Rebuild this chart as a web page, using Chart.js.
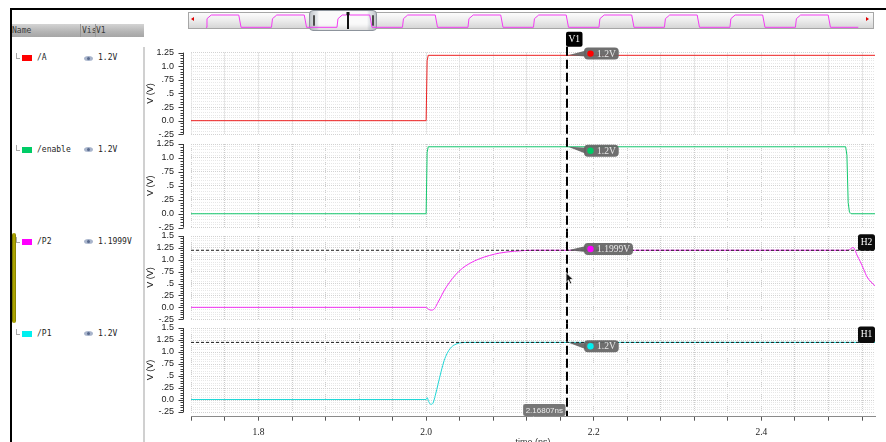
<!DOCTYPE html>
<html>
<head>
<meta charset="utf-8">
<title>Transient response</title>
<script src="https://cdn.jsdelivr.net/npm/chart.js@4.4.1/dist/chart.umd.min.js"></script>
<style>
  html, body { margin: 0; padding: 0; }
  body { width: 886px; height: 442px; overflow: hidden; position: relative; background: #fff;
         font-family: "DejaVu Sans Mono", monospace; font-size: 8px; color: #222; }
  canvas { position: absolute; }
  .blk { position: absolute; background: #000; }
  .hdr { position: absolute; top: 24px; height: 13px; left: 12px; width: 132px;
         background: linear-gradient(#d4d4d4, #b4b4b4 60%, #a6a6a6); }
  .hdr span { position: absolute; top: 2px; font-size: 8px; line-height: 9px; color: #3a3a3a; }
  .sep { position: absolute; top: 24px; width: 1px; height: 13px; background: #959595; }
  .divider { position: absolute; left: 143px; top: 47px; width: 2px; height: 395px; background: #d0d0d0; }
  .txt { position: absolute; font-size: 8px; line-height: 10px; color: #1e1e1e; white-space: nowrap; }
  .tree { position: absolute; width: 3px; height: 5px; border-left: 1px solid #a8a8a8; border-bottom: 1px solid #a8a8a8; }
  .swatch { position: absolute; width: 10px; height: 6px; }
  .eye { position: absolute; width: 9px; height: 5px; border-radius: 50%; background: #a9b5cc; }
  .eye::after { content: ""; position: absolute; left: 3px; top: 1px; width: 3px; height: 3px; border-radius: 50%; background: #5a6b8e; }
  .selbar { position: absolute; left: 12px; top: 233px; width: 4px; height: 90px; border-radius: 2px;
            background: linear-gradient(90deg, #6a6600, #bdb400 50%, #7c7700); }
  .nav { position: absolute; left: 188px; top: 12px; width: 684px; height: 15px; border: 1px solid #a6a6a6;
         background: linear-gradient(#fcfcfc, #ececec 50%, #d6d6d6); }
  .arrowL { position: absolute; left: 191px; top: 17px; width: 0; height: 0;
            border-top: 2px solid transparent; border-bottom: 2px solid transparent; border-right: 3px solid #e00000; }
  .arrowR { position: absolute; left: 866px; top: 17px; width: 0; height: 0;
            border-top: 2px solid transparent; border-bottom: 2px solid transparent; border-left: 3px solid #e00000; }
  .thumb { position: absolute; left: 309px; top: 10px; width: 66px; height: 19px; border: 1px solid #8d949c; border-radius: 4px;
           background: linear-gradient(90deg, #c9cdd2 0, #e4e7ea 7px, #fafafa 9px, #fafafa 57px, #e4e7ea 59px, #c9cdd2 100%);
           box-shadow: inset 0 -3px 4px rgba(0,0,0,0.12); }
  .grip { position: absolute; top: 15px; width: 2px; height: 11px; background: #4c4c4c; border-radius: 1px; }
  .pointer { position: absolute; left: 565px; top: 272px; }
</style>
</head>
<body>
<div class="blk" style="left:10px;top:8px;width:876px;height:2px"></div>
<div class="blk" style="left:10px;top:8px;width:2px;height:434px"></div>

<div class="hdr"><span style="left:0">Name</span><span style="left:70px">Vis</span><span style="left:84px">V1</span></div>
<div class="sep" style="left:80px"></div>
<div class="sep" style="left:95px"></div>
<div class="divider"></div>
<div class="selbar"></div>

<div class="nav"></div>
<div class="arrowL"></div>
<div class="arrowR"></div>
<div class="thumb"></div>
<div class="grip" style="left:313px"></div>
<div class="grip" style="left:372px"></div>

<script>
// ---------------- signal data (time in ns, voltage in V) ----------------
const xMin = 1.7195;
const xMax = 2.5355;
const cursorTime = 2.16807;

const signalNames  = ['/A', '/enable', '/P2', '/P1'];
const signalColors = ['#ff0000', '#00cc66', '#ff00ff', '#00f0f0'];
const cursorValues = [1.2, 1.2, 1.1999, 1.2];

const aTime = [1.7195, 2.0, 2.0012, 2.0025, 2.5355];
const aVolt = [0, 0, 1.1, 1.2, 1.2];

const enTime = [1.7195, 2.0, 2.0012, 2.0025, 2.5005, 2.502, 2.5035, 2.505, 2.507, 2.5355];
const enVolt = [0, 0, 1.1, 1.2, 1.2, 1.05, 0.2, 0.03, 0, 0];

const p2Time = [1.7195, 2.0, 2.0027, 2.0063, 2.0099, 2.0134, 2.017, 2.0218, 2.0277, 2.0349, 2.0432,
                2.0516, 2.0635, 2.0755, 2.0874, 2.1053, 2.1292, 2.16807, 2.503, 2.5075, 2.5093,
                2.511, 2.514, 2.518, 2.522, 2.526, 2.5355];
const p2Volt = [0, 0, -0.04, -0.06, -0.03, 0.08, 0.2, 0.36, 0.52, 0.68, 0.82,
                0.92, 1.02, 1.09, 1.14, 1.18, 1.2, 1.1999, 1.2, 1.24, 1.26,
                1.23, 1.1, 0.96, 0.8, 0.64, 0.45];

const p1Time = [1.7195, 2.0, 2.0012, 2.003, 2.0055, 2.008, 2.011, 2.0145, 2.018, 2.0215,
                2.025, 2.029, 2.034, 2.04, 2.05, 2.16807, 2.5355];
const p1Volt = [0.01, 0.01, 0.05, -0.03, -0.09, -0.07, 0.1, 0.35, 0.6, 0.82,
                0.97, 1.08, 1.15, 1.19, 1.2, 1.2, 1.2];

// horizontal markers H2 (on /P2) and H1 (on /P1)
const hMarkerNames  = ['H2', 'H1'];
const hMarkerLevels = [1.2, 1.2];

// overview waveform shown in the navigation bar
const navTime = [
  0.00, 0.015, 0.08, 0.50, 0.535,
  1.00, 1.015, 1.08, 1.50, 1.535,
  2.00, 2.015, 2.08, 2.50, 2.535,
  3.00, 3.015, 3.08, 3.50, 3.535,
  4.00, 4.015, 4.08, 4.50, 4.535,
  5.00, 5.015, 5.08, 5.50, 5.535,
  6.00, 6.015, 6.08, 6.50, 6.535,
  7.00, 7.015, 7.08, 7.50, 7.535,
  8.00, 8.015, 8.08, 8.50, 8.535,
  9.00, 9.015, 9.08, 9.50, 9.535,
  9.96];
const navLevel = [
  0, 0.7, 1, 1, 0,
  0, 0.7, 1, 1, 0,
  0, 0.7, 1, 1, 0,
  0, 0.7, 1, 1, 0,
  0, 0.7, 1, 1, 0,
  0, 0.7, 1, 1, 0,
  0, 0.7, 1, 1, 0,
  0, 0.7, 1, 1, 0,
  0, 0.7, 1, 1, 0,
  0, 0.7, 1, 1, 0,
  0];

// axis tick labels
const xTickLabelValues = [1.8, 2.0, 2.2, 2.4];
const xTickLabelText   = ['1.8', '2.0', '2.2', '2.4'];
const yLabelValuesLow  = [-0.25, 0, 0.25, 0.5, 0.75, 1.0, 1.25];
const yLabelTextLow    = ['-.25', '0.0', '.25', '.5', '.75', '1.0', '1.25'];
const yLabelValuesHigh = [-0.25, 0, 0.25, 0.5, 0.75, 1.0, 1.25, 1.5];
const yLabelTextHigh   = ['-.25', '0.0', '.25', '.5', '.75', '1.0', '1.25', '1.5'];

// ---------------- layout ----------------
const CANVAS_LEFT = 145, CANVAS_W = 741, PLOT_LEFT = 191, PLOT_RIGHT = 875;
const AXIS_Y = 416.7, V1_BOTTOM = 46.7;
const strips = [
  { top: 52.6, bottom: 134.3, canvasTop: 28,  canvasBottom: 144, yMin: -0.25, yMax: 1.25, lv: yLabelValuesLow,  lt: yLabelTextLow,  labelDy: -1.7 },
  { top: 144,  bottom: 227.7, canvasTop: 134, canvasBottom: 236, yMin: -0.25, yMax: 1.25, lv: yLabelValuesLow,  lt: yLabelTextLow,  labelDy: 4.0 },
  { top: 236,  bottom: 319.2, canvasTop: 226, canvasBottom: 328, yMin: -0.25, yMax: 1.5,  lv: yLabelValuesHigh, lt: yLabelTextHigh, labelDy: -1.3, h: 0 },
  { top: 328,  bottom: 412,   canvasTop: 318, canvasBottom: 422, yMin: -0.25, yMax: 1.5,  lv: yLabelValuesHigh, lt: yLabelTextHigh, labelDy: 3.8,  h: 1 },
];

Chart.defaults.font.family = '"Liberation Sans", sans-serif';
Chart.defaults.font.size = 9;
Chart.defaults.color = '#222';

function gridSteps(lo, hi, step) {
  const out = [];
  const first = Math.ceil(lo / step - 1e-9), last = Math.floor(hi / step + 1e-9);
  for (let k = first; k <= last; k++) out.push(+(k * step).toFixed(4));
  return out;
}
const xGridTicks = gridSteps(xMin, xMax, 0.04);

function labelFor(v, vals, texts) {
  const k = vals.findIndex(u => Math.abs(u - v) < 1e-6);
  return k < 0 ? '' : texts[k];
}
function points(ts, vs) { return ts.map((t, k) => ({ x: t, y: vs[k] })); }

function rrect(ctx, x, y, w, h, r) {
  ctx.beginPath();
  ctx.moveTo(x + r, y);
  ctx.arcTo(x + w, y, x + w, y + h, r);
  ctx.arcTo(x + w, y + h, x, y + h, r);
  ctx.arcTo(x, y + h, x, y, r);
  ctx.arcTo(x, y, x + w, y, r);
  ctx.closePath();
}

function addCanvas(left, top, w, h) {
  const cv = document.createElement('canvas');
  cv.width = w; cv.height = h;
  cv.style.left = left + 'px'; cv.style.top = top + 'px';
  cv.style.width = w + 'px'; cv.style.height = h + 'px';
  document.body.appendChild(cv);
  return cv;
}

// ---------------- left name panel ----------------
strips.forEach((s, i) => {
  const rowY = s.top + 5.5;
  const add = (cls, css, text) => {
    const d = document.createElement('div');
    d.className = cls; d.style.cssText = css;
    if (text) d.textContent = text;
    document.body.appendChild(d);
  };
  add('tree', `left:16px;top:${rowY - 5}px`);
  add('swatch', `left:22px;top:${rowY - 3}px;background:${signalColors[i]}`);
  add('txt', `left:37px;top:${rowY - 5}px`, signalNames[i]);
  add('eye', `left:84px;top:${rowY - 2.5}px`);
  add('txt', `left:98px;top:${rowY - 5}px`, cursorValues[i] + 'V');
});

// ---------------- strip overlays: ruler, markers, cursor ----------------
function stripOverlay(i) {
  const s = strips[i];
  return {
    id: 'stripOverlay' + i,
    afterDraw(chart) {
      const { ctx, chartArea: ca, scales: { x, y } } = chart;
      ctx.save();

      // axis ruler with minor ticks
      const rx = Math.round(ca.left - 8) + 0.5;
      ctx.strokeStyle = '#3a3a3a'; ctx.lineWidth = 1; ctx.setLineDash([]);
      ctx.beginPath();
      ctx.moveTo(rx, y.getPixelForValue(s.yMax)); ctx.lineTo(rx, y.getPixelForValue(s.yMin));
      y.ticks.forEach(t => {
        const py = Math.round(y.getPixelForValue(t.value)) + 0.5;
        const len = labelFor(t.value, s.lv, s.lt) ? 5 : 3;
        ctx.moveTo(rx - len, py); ctx.lineTo(rx, py);
      });
      ctx.stroke();

      // horizontal marker tag
      if (s.h !== undefined) {
        const ly = y.getPixelForValue(hMarkerLevels[s.h]);
        ctx.fillStyle = '#0b0b0b';
        rrect(ctx, ca.right - 17, ly - 16, 17, 16.5, 2.5); ctx.fill();
        ctx.fillStyle = '#fff'; ctx.font = '9.5px "Liberation Serif"';
        ctx.textAlign = 'center'; ctx.textBaseline = 'middle';
        ctx.fillText(hMarkerNames[s.h], ca.right - 8.5, ly - 7.5);
      }

      // vertical cursor
      const cx = Math.round(x.getPixelForValue(cursorTime));
      const pageTop = i === 0 ? V1_BOTTOM : (strips[i - 1].bottom + s.top) / 2;
      const pageBot = i === 3 ? AXIS_Y : (s.bottom + strips[i + 1].top) / 2;
      ctx.strokeStyle = '#000'; ctx.lineWidth = 2;
      ctx.setLineDash([9, 4]); ctx.lineDashOffset = pageTop - V1_BOTTOM;
      ctx.beginPath();
      ctx.moveTo(cx, pageTop - s.canvasTop); ctx.lineTo(cx, pageBot - s.canvasTop);
      ctx.stroke();
      ctx.setLineDash([]);

      if (i === 0) {
        ctx.fillStyle = '#000';
        rrect(ctx, cx - 1, 31.7 - s.canvasTop, 16.5, 15, 2); ctx.fill();
        ctx.fillStyle = '#fff'; ctx.font = '9.5px "Liberation Serif"';
        ctx.textAlign = 'center'; ctx.textBaseline = 'middle';
        ctx.fillText('V1', cx + 7.3, 39.5 - s.canvasTop);
      }
      if (i === 3) {
        const txt = cursorTime.toFixed(5) + 'ns';
        ctx.font = '8px "Liberation Sans"';
        const w = ctx.measureText(txt).width + 5;
        ctx.fillStyle = 'rgba(112,112,112,0.95)';
        rrect(ctx, cx - 1.5 - w, 404 - s.canvasTop, w, 12, 2); ctx.fill();
        ctx.fillStyle = '#ececec'; ctx.textAlign = 'left'; ctx.textBaseline = 'middle';
        ctx.fillText(txt, cx - w + 1, 410.5 - s.canvasTop);
      }

      // value tag at the cursor crossing
      const cy = y.getPixelForValue(cursorValues[i]);
      const txt = cursorValues[i] + 'V';
      ctx.font = '9.5px "Liberation Serif"';
      const bw = 13 + ctx.measureText(txt).width + 3, bh = 12;
      const bx = cx + 17, by = cy + s.labelDy - bh / 2;
      ctx.fillStyle = 'rgba(100,100,100,0.93)';
      ctx.beginPath();
      ctx.moveTo(cx + 1, cy); ctx.lineTo(bx + 2, by + bh / 2 - 3); ctx.lineTo(bx + 2, by + bh / 2 + 3);
      ctx.closePath(); ctx.fill();
      rrect(ctx, bx, by, bw, bh, 4); ctx.fill();
      ctx.fillStyle = signalColors[i];
      ctx.beginPath(); ctx.arc(bx + 6.5, by + bh / 2, 3.2, 0, Math.PI * 2); ctx.fill();
      ctx.fillStyle = '#e9e9e9'; ctx.textAlign = 'left'; ctx.textBaseline = 'middle';
      ctx.fillText(txt, bx + 13, by + bh / 2 + 0.5);

      ctx.restore();
    }
  };
}

function makeStrip(i, datasets) {
  const s = strips[i];
  const h = s.canvasBottom - s.canvasTop;
  const cv = addCanvas(CANVAS_LEFT, s.canvasTop, CANVAS_W, h);
  return new Chart(cv, {
    type: 'line',
    data: { datasets },
    options: {
      responsive: false, animation: false, devicePixelRatio: 1, events: [],
      layout: { padding: { top: s.top - s.canvasTop, bottom: s.canvasBottom - s.bottom,
                           left: 0, right: CANVAS_W - (PLOT_RIGHT - CANVAS_LEFT) } },
      plugins: { legend: { display: false }, tooltip: { enabled: false } },
      elements: { point: { radius: 0 }, line: { borderWidth: 1 } },
      scales: {
        x: {
          type: 'linear', min: xMin, max: xMax,
          afterBuildTicks: sc => { sc.ticks = xGridTicks.map(v => ({ value: v })); },
          afterFit: sc => { sc.height = 0; },
          ticks: { display: false },
          grid: { drawTicks: false, color: '#cdcdcd', lineWidth: 1 },
          border: { display: false, dash: [1, 1] }
        },
        y: {
          type: 'linear', position: 'left', min: s.yMin, max: s.yMax,
          afterBuildTicks: sc => { sc.ticks = gridSteps(s.yMin, s.yMax, 0.05).map(v => ({ value: v })); },
          afterFit: sc => { sc.width = PLOT_LEFT - CANVAS_LEFT; },
          ticks: { autoSkip: false, padding: 0, color: '#222', font: { size: 9 },
                   callback: v => labelFor(v, s.lv, s.lt) },
          grid: { drawTicks: true, tickLength: 17, tickColor: 'rgba(0,0,0,0)', lineWidth: 1,
                  color: c => (c.tick && labelFor(c.tick.value, s.lv, s.lt)) ? '#d2d2d2' : '#e7e7e7' },
          border: { display: false, dash: [1, 1] },
          title: { display: true, text: 'V (V)', padding: 0, color: '#222', font: { size: 9 } }
        }
      }
    },
    plugins: [stripOverlay(i)]
  });
}

function wave(ts, vs, color, smooth) {
  return { data: points(ts, vs), borderColor: color, borderWidth: 1, pointRadius: 0,
           tension: 0, cubicInterpolationMode: smooth ? 'monotone' : 'default' };
}
function hLine(level) {
  return { data: [{ x: xMin, y: level }, { x: xMax, y: level }], borderColor: '#1a1a1a',
           borderWidth: 1, borderDash: [3, 2], pointRadius: 0 };
}

makeStrip(0, [wave(aTime, aVolt, '#ee2222', false)]);
makeStrip(1, [wave(enTime, enVolt, '#14c86e', false)]);
makeStrip(2, [hLine(hMarkerLevels[0]), wave(p2Time, p2Volt, '#f22cf2', true)]);
makeStrip(3, [hLine(hMarkerLevels[1]), wave(p1Time, p1Volt, '#1ed6d6', true)]);

// ---------------- shared time axis ----------------
(function () {
  const cv = addCanvas(CANVAS_LEFT, 400, CANVAS_W, 48);
  new Chart(cv, {
    type: 'line',
    data: { datasets: [] },
    options: {
      responsive: false, animation: false, devicePixelRatio: 1, events: [],
      layout: { padding: { left: PLOT_LEFT - CANVAS_LEFT, right: CANVAS_W - (PLOT_RIGHT - CANVAS_LEFT), top: 0, bottom: 0 } },
      plugins: { legend: { display: false }, tooltip: { enabled: false } },
      scales: {
        x: {
          type: 'linear', position: 'bottom', min: xMin, max: xMax,
          afterBuildTicks: sc => { sc.ticks = xGridTicks.map(v => ({ value: v })); },
          afterFit: sc => { sc.height = 31.3; },
          grid: { drawOnChartArea: false, drawTicks: true, tickLength: 4, tickColor: '#555', tickWidth: 1 },
          border: { display: true, color: '#8a8a8a', width: 1 },
          ticks: { autoSkip: false, maxRotation: 0, padding: 6, color: '#222',
                   font: { family: '"Liberation Serif"', size: 9.5 },
                   callback: v => labelFor(v, xTickLabelValues, xTickLabelText) },
          title: { display: true, text: 'time (ns)', padding: 0, color: '#333', font: { size: 9 } }
        },
        y: { display: false }
      }
    }
  });
})();

// ---------------- navigation overview ----------------
(function () {
  const cv = addCanvas(188, 12, 686, 17);
  new Chart(cv, {
    type: 'line',
    data: { datasets: [{ data: points(navTime, navLevel), borderColor: '#f23cf2', borderWidth: 1, pointRadius: 0 }] },
    options: {
      responsive: false, animation: false, devicePixelRatio: 1, events: [],
      layout: { padding: 0 },
      plugins: { legend: { display: false }, tooltip: { enabled: false } },
      scales: {
        x: { type: 'linear', display: false, min: -0.275, max: 10.2 },
        y: { type: 'linear', display: false, min: -0.138, max: 1.244 }
      }
    },
    plugins: [{
      id: 'navCursor',
      afterDraw(chart) {
        const { ctx, scales: { x } } = chart;
        const px = Math.round(x.getPixelForValue(cursorTime));
        ctx.save();
        ctx.fillStyle = '#111';
        ctx.fillRect(px - 1, 1, 2, 16);
        ctx.fillRect(px - 1.5, 0, 3, 3);
        ctx.restore();
      }
    }]
  });
})();
</script>

<svg class="pointer" width="10" height="13" viewBox="0 0 10 13">
  <path d="M1 0.5 L1 10.5 L3.4 8.2 L5.2 12 L6.8 11.3 L5 7.6 L8.3 7.6 Z" fill="#111" stroke="#fff" stroke-width="0.8"/>
</svg>
</body>
</html>
